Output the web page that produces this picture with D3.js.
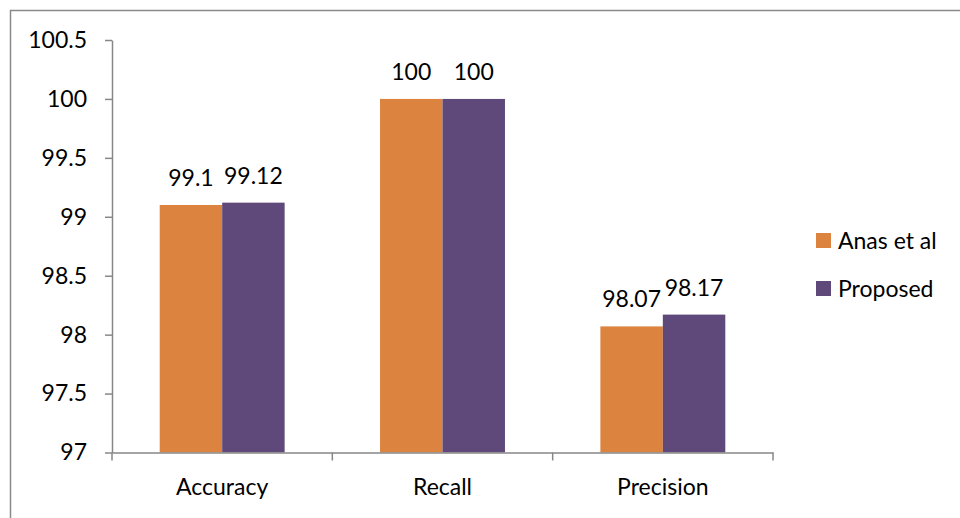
<!DOCTYPE html>
<html>
<head>
<meta charset="utf-8">
<script src="https://cdn.jsdelivr.net/npm/d3@7"></script>
<style>
  html, body { margin: 0; padding: 0; background: #fff; }
  svg { display: block; font-family: Lato, "Open Sans", sans-serif; }
</style>
</head>
<body>
<svg id="chart" width="960" height="518"></svg>
<script>
// Metric categories and the two compared methods
const categories = ["Accuracy", "Recall", "Precision"];
const seriesNames = ["Anas et al", "Proposed"];
const anasValues = [99.1, 100, 98.07];
const proposedValues = [99.12, 100, 98.17];
const seriesLabels = [["99.1", "100", "98.07"], ["99.12", "100", "98.17"]];
const yTicks = [97, 97.5, 98, 98.5, 99, 99.5, 100, 100.5];
const colors = ["#DC843F", "#5F497A"];

const seriesValues = [anasValues, proposedValues];
const rows = categories.map((c, i) => ({
  category: c,
  values: seriesNames.map((s, j) => ({ series: s, idx: j, value: seriesValues[j][i], label: seriesLabels[j][i] }))
}));

const svg = d3.select("#chart");
const axisColor = "#878787";
const fontSize = 23;
const fontFamily = "Lato, 'Open Sans', sans-serif";

// Outer frame
svg.append("rect")
  .attr("x", 10.5).attr("y", 10.5)
  .attr("width", 960).attr("height", 520)
  .attr("fill", "none").attr("stroke", "#8a8a8a").attr("stroke-width", 1.5);

const plot = { left: 112, right: 773, top: 40, bottom: 452.5 };

const y = d3.scaleLinear().domain([97, 100.5]).range([plot.bottom, plot.top]);
const x = d3.scaleBand().domain(categories).range([plot.left, plot.right]).padding(0);
const groupWidth = x.bandwidth() * 0.567;
const xs = d3.scaleBand().domain(seriesNames)
  .range([(x.bandwidth() - groupWidth) / 2, (x.bandwidth() + groupWidth) / 2]);

// Bars
const groups = svg.append("g").selectAll("g").data(rows).join("g")
  .attr("transform", d => `translate(${x(d.category)},0)`);

groups.selectAll("rect").data(d => d.values).join("rect")
  .attr("x", d => xs(d.series))
  .attr("y", d => y(d.value))
  .attr("width", xs.bandwidth())
  .attr("height", d => y(97) - y(d.value))
  .attr("fill", d => colors[d.idx]);

// Value labels above bars
groups.selectAll("text").data(d => d.values).join("text")
  .attr("x", d => xs(d.series) + xs.bandwidth() / 2)
  .attr("y", d => y(d.value) - 19)
  .attr("text-anchor", "middle")
  .attr("font-size", fontSize)
  .attr("fill", "#000")
  .text(d => d.label);

// Y axis
const yAxis = svg.append("g")
  .attr("transform", `translate(${plot.left},0)`)
  .call(d3.axisLeft(y).tickValues(yTicks).tickFormat(d => String(d))
    .tickSize(7).tickSizeOuter(0).tickPadding(18));
yAxis.select(".domain").attr("stroke", axisColor).attr("stroke-width", 1.5);
yAxis.selectAll(".tick line").attr("stroke", axisColor).attr("stroke-width", 1.5);
yAxis.selectAll(".tick text").attr("font-size", fontSize).attr("fill", "#000")
  .attr("font-family", fontFamily);

// X axis: labels centred in bands, ticks at band boundaries
const xAxis = svg.append("g")
  .attr("transform", `translate(0,${plot.bottom})`)
  .call(d3.axisBottom(x).tickSize(0).tickSizeOuter(0).tickPadding(26));
xAxis.select(".domain").attr("stroke", axisColor).attr("stroke-width", 1.5);
xAxis.selectAll(".tick text").attr("font-size", fontSize).attr("fill", "#000")
  .attr("font-family", fontFamily);

const boundaries = categories.map(c => x(c)).concat([x.range()[1]]);
xAxis.selectAll("line.boundary").data(boundaries).join("line")
  .attr("class", "boundary")
  .attr("x1", d => d).attr("x2", d => d)
  .attr("y1", 0).attr("y2", 8)
  .attr("stroke", axisColor).attr("stroke-width", 1.5);

// Legend
const legend = svg.append("g").attr("transform", "translate(816,233)");
const items = legend.selectAll("g").data(seriesNames).join("g")
  .attr("transform", (d, i) => `translate(0,${i * 48})`);
items.append("rect").attr("width", 15).attr("height", 15)
  .attr("fill", (d, i) => colors[i]);
items.append("text").attr("x", 22).attr("y", 15.5)
  .attr("font-size", fontSize).attr("fill", "#000")
  .text(d => d);
</script>
</body>
</html>
